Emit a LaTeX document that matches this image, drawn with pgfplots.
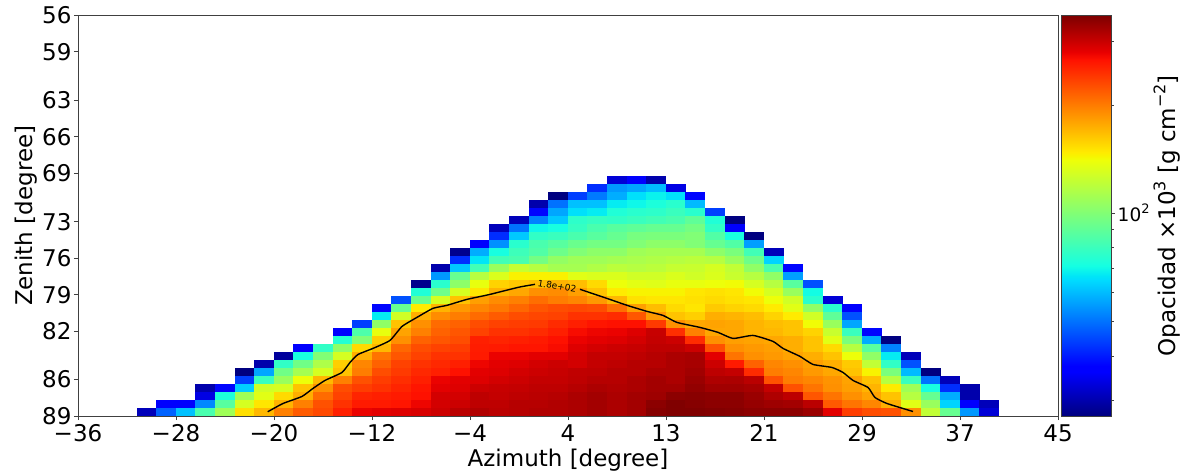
\documentclass[border=0pt]{standalone}
\usepackage{pgfplots}
\usepackage{fontspec}
\setmainfont{DejaVu Sans}
\pgfplotsset{compat=1.18}
\pgfdeclareplotmark{cell}{\pgfpathrectangle{\pgfpoint{-9.95pt}{-4.1pt}}{\pgfpoint{19.9pt}{8.2pt}}\pgfusepathqfill}
\newcommand{\cellrow}[3]{\addplot[scatter,only marks,mark=cell,
  scatter/use mapped color={fill=mapped color,draw=none},
  point meta={log10(\thisrowno{0})}]
  table[row sep=\\,header=false,x expr={-36+1.62*(\coordindex+#2+0.5)},y expr={89-0.66*(#1+0.5)}] {#3};}
\newcommand{\lbl}{\fontsize{23}{27}\selectfont}
\newcommand{\sups}[1]{\raisebox{0.42em}{\fontsize{16}{16}\selectfont #1}}
\pgfplotsset{mpljet/.style={colormap={mpljet}{rgb(0pt)=(0,0,0.5);rgb(110pt)=(0,0,1);rgb(125pt)=(0,0,1);rgb(340pt)=(0,0.86,1);rgb(350pt)=(0,0.9,0.97);rgb(375pt)=(0.08,1,0.89);rgb(640pt)=(0.935,1,0.03);rgb(650pt)=(0.97,0.96,0);rgb(660pt)=(1,0.92,0);rgb(890pt)=(1,0.07,0);rgb(910pt)=(0.91,0,0);rgb(1000pt)=(0.5,0,0)}}}
\begin{document}
\begin{tikzpicture}
\useasboundingbox (-78pt,-59pt) rectangle (1107pt,416pt);
\begin{axis}[at={(0pt,0pt)},anchor=south west,scale only axis,width=980pt,height=400.5pt,
  y dir=reverse,xmin=-36,xmax=45,ymin=56,ymax=89,axis on top,clip mode=individual,
  mpljet,
  point meta min=1.4346,point meta max=2.5502,
  xtick={-36,-27.9,-19.8,-11.7,-3.6,4.5,12.6,20.7,28.8,36.9,45},
  xticklabels={−36,−28,−20,−12,−4,4,13,21,29,37,45},
  ytick={56,59,63,66,69,73,76,79,82,86,89},
  yticklabels={56,59,63,66,69,73,76,79,82,86,89},
  xtick pos=bottom,ytick pos=left,tick align=outside,major tick length=4pt,
  tick style={black!75,line width=0.9pt},axis line style={black!75,line width=0.9pt},
  tick label style={font=\lbl},label style={font=\lbl},
  xlabel={Azimuth [degree]},ylabel={Zenith [degree]},
  xticklabel style={yshift=-1pt},yticklabel style={xshift=1pt},
  xlabel style={yshift=0pt},ylabel style={yshift=-2pt}]
\cellrow{0}{3}{31\\48\\61\\84\\110\\153\\170\\198\\219\\230\\258\\280\\285\\288\\292\\300\\312\\318\\312\\315\\318\\318\\322\\328\\322\\328\\350\\355\\355\\352\\350\\345\\345\\345\\335\\285\\238\\228\\225\\190\\122\\92\\55\\33\\}
\cellrow{1}{4}{36\\36\\53\\88\\130\\150\\172\\198\\225\\245\\262\\262\\265\\278\\295\\300\\309\\309\\315\\315\\318\\322\\328\\322\\328\\345\\355\\350\\345\\345\\338\\332\\328\\312\\220\\205\\195\\175\\135\\108\\64\\36\\31\\}
\cellrow{2}{6}{34\\73\\110\\135\\155\\175\\210\\235\\255\\258\\262\\268\\295\\295\\309\\305\\309\\312\\315\\322\\328\\322\\328\\332\\345\\348\\345\\345\\335\\320\\310\\222\\205\\190\\180\\165\\118\\92\\58\\30\\}
\cellrow{3}{6}{30\\38\\63\\128\\130\\165\\190\\228\\238\\245\\255\\265\\285\\288\\300\\303\\305\\309\\309\\315\\322\\318\\322\\328\\328\\340\\330\\330\\325\\305\\225\\205\\190\\182\\172\\148\\110\\72\\42\\30\\}
\cellrow{4}{8}{44\\80\\108\\140\\170\\198\\225\\238\\248\\258\\280\\285\\288\\295\\300\\305\\305\\309\\315\\315\\322\\328\\322\\335\\320\\322\\312\\225\\200\\195\\188\\180\\165\\118\\80\\50\\31\\}
\cellrow{5}{8}{27\\57\\95\\112\\130\\165\\200\\228\\240\\252\\258\\268\\285\\288\\295\\300\\303\\308\\309\\315\\315\\322\\322\\330\\310\\305\\250\\200\\195\\185\\178\\165\\145\\98\\60\\27\\}
\cellrow{6}{9}{30\\78\\95\\115\\160\\195\\215\\235\\245\\252\\258\\278\\285\\288\\295\\300\\295\\305\\309\\315\\315\\322\\325\\300\\262\\215\\195\\190\\182\\175\\162\\122\\78\\46\\}
\cellrow{7}{10}{29\\72\\100\\130\\175\\205\\222\\235\\245\\245\\262\\280\\280\\285\\285\\295\\305\\305\\309\\315\\322\\325\\285\\205\\190\\185\\180\\175\\165\\140\\105\\68\\31\\}
\cellrow{8}{11}{36\\78\\105\\155\\170\\212\\228\\235\\238\\260\\262\\265\\265\\272\\288\\295\\300\\303\\309\\309\\300\\225\\190\\185\\182\\175\\165\\155\\118\\88\\52\\}
\cellrow{9}{13}{75\\100\\160\\190\\215\\222\\228\\258\\255\\258\\262\\268\\280\\285\\288\\295\\305\\300\\250\\190\\182\\180\\178\\175\\165\\135\\98\\58\\27\\}
\cellrow{10}{13}{36\\85\\138\\180\\198\\215\\222\\235\\245\\245\\250\\258\\272\\278\\280\\288\\303\\248\\198\\178\\178\\172\\170\\165\\158\\125\\80\\38\\}
\cellrow{11}{14}{44\\105\\165\\190\\210\\215\\228\\235\\238\\240\\250\\258\\265\\268\\268\\240\\190\\178\\180\\178\\172\\168\\165\\142\\108\\57\\}
\cellrow{12}{15}{68\\128\\175\\192\\200\\210\\219\\228\\232\\235\\245\\245\\250\\222\\185\\165\\160\\175\\172\\168\\158\\148\\128\\90\\46\\}
\cellrow{13}{15}{38\\92\\148\\172\\185\\195\\202\\212\\222\\228\\230\\228\\208\\182\\168\\155\\150\\162\\158\\155\\148\\135\\105\\76\\36\\}
\cellrow{14}{16}{46\\92\\130\\165\\182\\192\\198\\208\\200\\195\\185\\170\\152\\150\\150\\152\\155\\152\\150\\140\\128\\76\\33\\}
\cellrow{15}{17}{74\\94\\130\\150\\172\\178\\190\\192\\182\\165\\148\\145\\145\\145\\150\\152\\150\\142\\130\\108\\71\\}
\cellrow{16}{17}{28\\76\\104\\138\\158\\163\\168\\172\\168\\155\\140\\136\\134\\138\\138\\140\\142\\130\\118\\88\\46\\}
\cellrow{17}{18}{55\\92\\118\\132\\146\\146\\146\\135\\132\\132\\128\\128\\132\\128\\132\\125\\118\\105\\56\\}
\cellrow{18}{18}{30\\62\\82\\108\\124\\118\\112\\112\\116\\120\\118\\120\\124\\125\\130\\122\\105\\84\\38\\}
\cellrow{19}{19}{42\\67\\82\\84\\96\\106\\110\\110\\112\\114\\116\\118\\120\\118\\108\\94\\64\\}
\cellrow{20}{19}{28\\58\\72\\81\\86\\94\\100\\104\\104\\110\\112\\112\\112\\104\\98\\82\\31\\}
\cellrow{21}{20}{36\\54\\76\\84\\88\\93\\96\\96\\100\\104\\104\\100\\92\\86\\56\\}
\cellrow{22}{21}{42\\62\\78\\80\\84\\88\\92\\97\\98\\98\\100\\86\\72\\27\\}
\cellrow{23}{21}{31\\50\\70\\72\\79\\84\\88\\90\\92\\92\\96\\78\\36\\}
\cellrow{24}{22}{31\\52\\62\\77\\79\\78\\80\\82\\84\\90\\74\\27\\}
\cellrow{25}{23}{38\\57\\66\\68\\74\\76\\77\\80\\76\\44\\}
\cellrow{26}{23}{30\\50\\61\\61\\68\\70\\73\\76\\60\\}
\cellrow{27}{24}{27\\44\\51\\58\\66\\69\\66\\38\\}
\cellrow{28}{26}{42\\55\\57\\60\\34\\}
\cellrow{29}{27}{33\\36\\30\\}
\addplot[black,line width=1.4pt,no marks,smooth,tension=0.3] coordinates {(-20.32,88.65)(-19.06,87.97)(-17.49,87.39)(-16.58,86.73)(-15.59,86.07)(-14.18,85.41)(-13.52,84.59)(-12.86,83.93)(-11.62,83.43)(-10.21,82.77)(-9.22,81.62)(-7.98,80.87)(-6.66,80.13)(-5.50,79.88)(-3.85,79.39)(-1.95,78.98)(0.37,78.40)(1.77,78.15)};
\addplot[black,line width=1.4pt,no marks,smooth,tension=0.3] coordinates {(5.49,78.56)(7.72,79.31)(9.38,79.88)(11.03,80.38)(12.35,80.71)(13.51,81.29)(15.41,81.70)(16.90,82.11)(18.14,82.61)(19.79,82.36)(21.44,82.85)(22.27,83.43)(23.68,84.09)(24.75,84.75)(26.32,85.00)(27.23,85.41)(28.06,86.07)(29.30,86.65)(29.87,87.47)(30.87,87.97)(33.02,88.63)};
\node[rotate=-9,font=\fontsize{9}{10}\selectfont,text=black,inner sep=0pt] at (axis cs:3.59,78.32) {1.8e+02};
\end{axis}
\begin{axis}[at={(983.7pt,0pt)},anchor=south west,scale only axis,width=49.5pt,height=400.5pt,
  xmin=0,xmax=1,ymin=1.4346,ymax=2.5502,mpljet,axis on top,
  point meta min=1.4346,point meta max=2.5502,
  xtick=\empty,ytick={2},yticklabels={10\raisebox{0.42em}{\fontsize{13}{13}\selectfont 2}},
  minor ytick={1.477,1.602,1.699,1.778,1.845,1.903,1.954,2.301,2.477},
  ytick pos=right,yticklabel pos=right,tick align=outside,major tick length=4pt,minor tick length=2.5pt,
  tick style={black!75,line width=0.8pt},axis line style={black!75,line width=0.8pt},
  yticklabel style={font=\fontsize{18.5}{22}\selectfont,xshift=-1pt},
  ylabel={Opacidad ×10\sups{3} [g cm\sups{−2}]},ylabel style={font=\lbl,at={(axis description cs:2.12,0.5)},anchor=center,rotate=0}]
\addplot[surf,shader=interp,point meta=y,mesh/rows=2] coordinates {(0,1.4346)(1,1.4346)

(0,2.5502)(1,2.5502)};
\end{axis}
\end{tikzpicture}
\end{document}
